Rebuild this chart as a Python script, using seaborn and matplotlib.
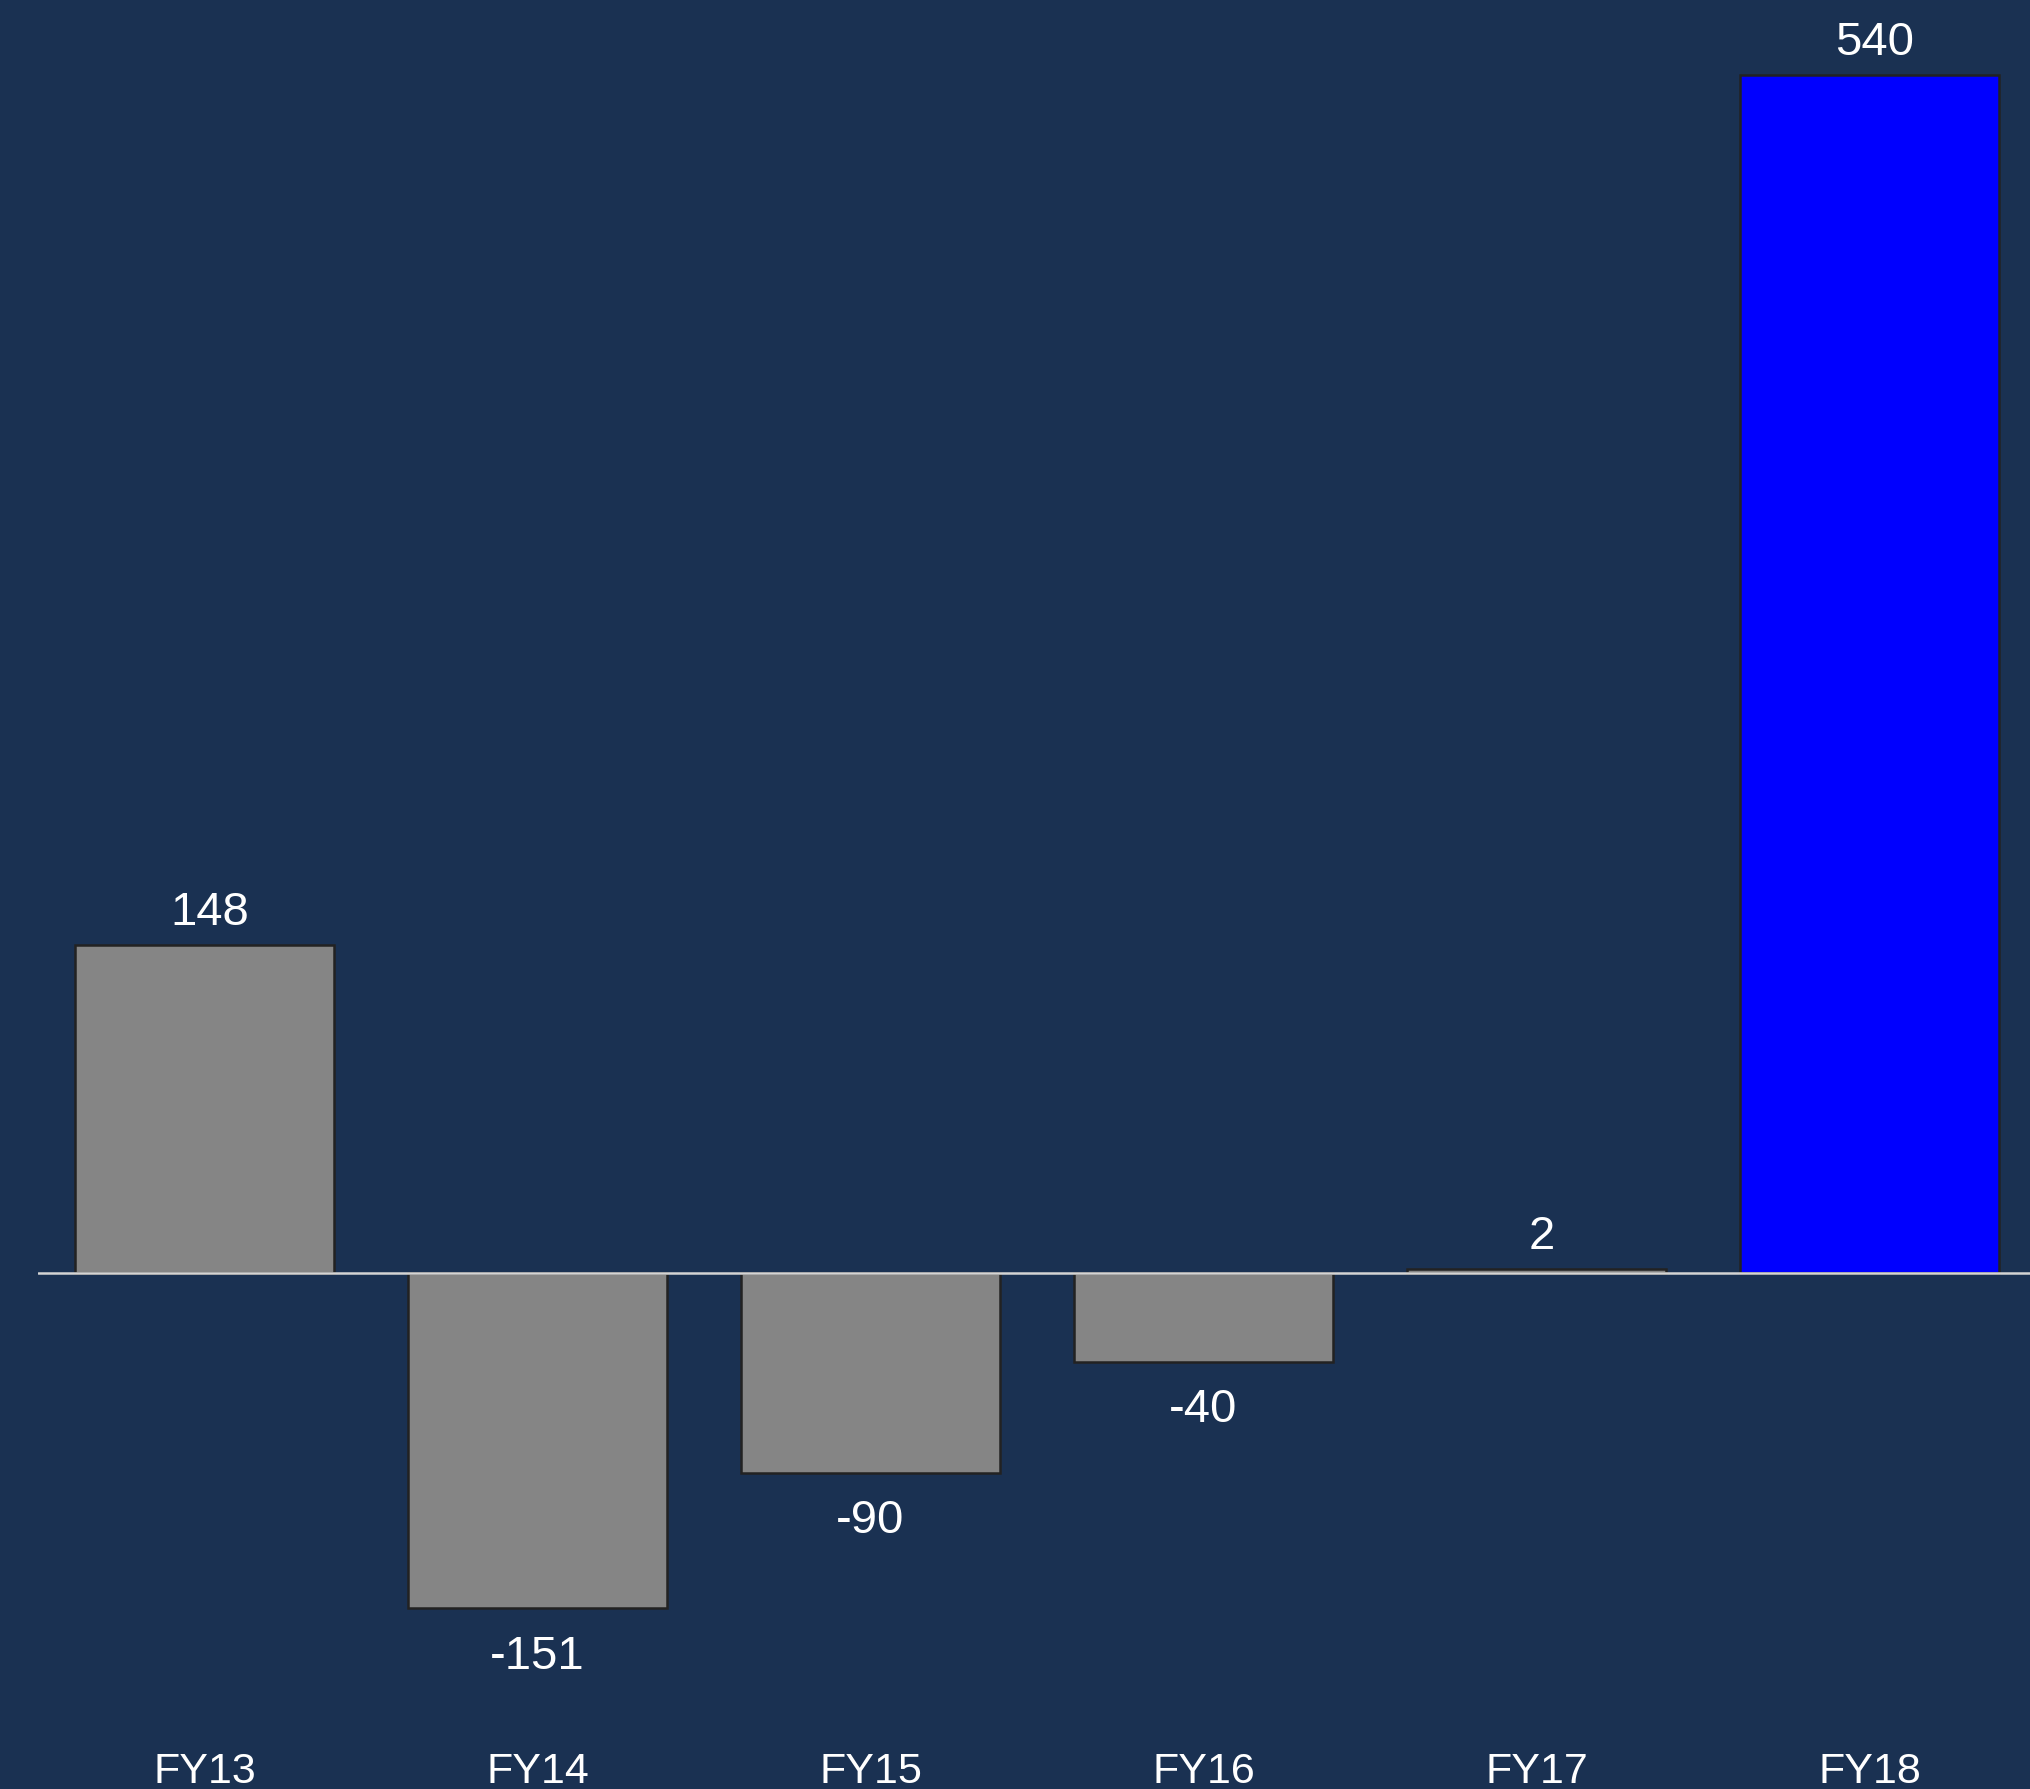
import matplotlib
matplotlib.use("Agg")
import matplotlib.pyplot as plt
import seaborn as sns

# Year-over-year change per fiscal year
categories = ["FY13", "FY14", "FY15", "FY16", "FY17", "FY18"]
values = [148, -151, -90, -40, 2, 540]
bar_colors = ["#858585", "#858585", "#858585", "#858585", "#858585", "#0000ff"]

BG = "#1a3152"

sns.set_theme(style="white")
plt.rcParams["font.family"] = ["Liberation Sans", "DejaVu Sans"]

W, H, DPI = 2030, 1790, 100
fig = plt.figure(figsize=(W / DPI, H / DPI), dpi=DPI, facecolor=BG)

# axes in pixel terms: left edge at 38 px, one category = 333 px, bottom at 1745 px
left_px, bottom_px, top_px = 38, 1745, 0
cat_px = 333
ax = fig.add_axes([left_px / W, (H - bottom_px) / H,
                   6 * cat_px / W, (bottom_px - top_px) / H])
ax.set_facecolor(BG)

sns.barplot(x=categories, y=values, hue=categories, palette=bar_colors,
            legend=False, width=0.78, edgecolor="#222222", linewidth=1.8,
            saturation=1, ax=ax)

ax.set_xlim(-0.5, 5.5)
px_per_unit = (1274 - 76) / 540
ax.set_ylim(-(bottom_px - 1274) / px_per_unit, (1274 - top_px) / px_per_unit)

ax.axhline(0, color="#d4d4d4", linewidth=1.8, zorder=3)

for i, v in enumerate(values):
    if v >= 0:
        ax.annotate(f"{v}", xy=(i, v), xytext=(4, 15), textcoords="offset points",
                    ha="center", va="baseline", color="white", fontsize=34)
    else:
        ax.annotate(f"{v}", xy=(i, v), xytext=(0, -43), textcoords="offset points",
                    ha="center", va="baseline", color="white", fontsize=34)

for s in ax.spines.values():
    s.set_visible(False)
ax.set_yticks([])
ax.set_xlabel("")
ax.set_ylabel("")
ax.tick_params(axis="x", length=0, pad=5, labelcolor="white", labelsize=31)

fig.savefig("out.png", dpi=DPI, facecolor=BG)
